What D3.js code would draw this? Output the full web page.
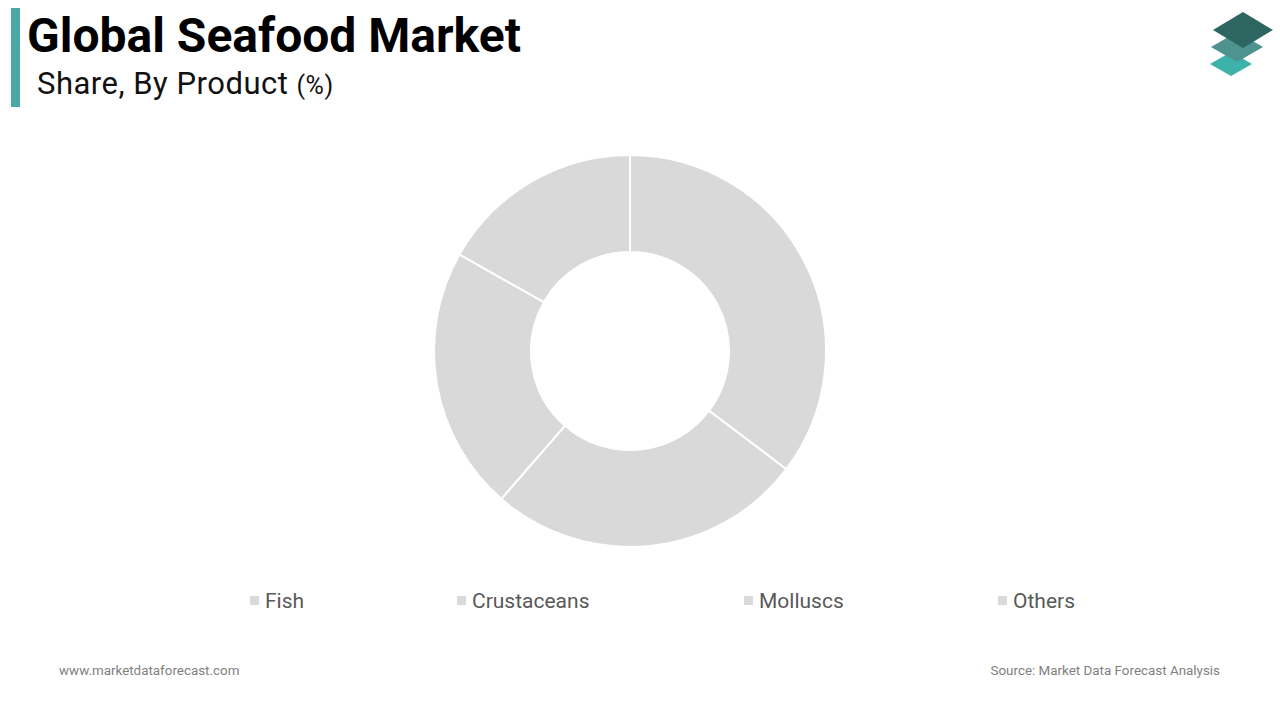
<!DOCTYPE html>
<html>
<head>
<meta charset="utf-8">
<script src="https://cdn.jsdelivr.net/npm/d3@7"></script>
<style>
  body { margin: 0; background: #fff; }
  svg { display: block; font-family: Roboto, "Noto Sans", sans-serif; }
</style>
</head>
<body>
<div id="chart"></div>
<script>
const categories = ["Fish", "Crustaceans", "Molluscs", "Others"];
const shares = [35.3, 26.1, 21.8, 16.8];
const legendX = [250, 457, 744, 998];

const width = 1280;
const height = 720;

const svg = d3
	.select("#chart")
	.append("svg")
	.attr("width", width)
	.attr("height", height);

// title block
svg.append("rect")
	.attr("x", 11).attr("y", 8)
	.attr("width", 9).attr("height", 99)
	.attr("fill", "#4aa8a8");

svg.append("text")
	.attr("x", 27).attr("y", 52)
	.attr("font-size", 48)
	.attr("font-weight", "bold")
	.attr("fill", "#000")
	.text("Global Seafood Market");

const sub = svg.append("text")
	.attr("x", 37).attr("y", 94)
	.attr("font-size", 31)
	.attr("letter-spacing", 0.5)
	.attr("fill", "#111");
sub.append("tspan").text("Share, By Product ");
sub.append("tspan").attr("font-size", 25).text("(%)");

// logo
const logo = svg.append("g");
const diamond = (x, y, w, h) => `M${x},${y - h} L${x + w},${y} L${x},${y + h} L${x - w},${y} Z`;
logo.append("path").attr("d", diamond(1231, 64, 21, 12)).attr("fill", "#3cb2ab");
logo.append("path").attr("d", diamond(1237, 47, 26, 15)).attr("fill", "#4e938f");
logo.append("path").attr("d", diamond(1243, 30, 30, 18)).attr("fill", "#2d6660");

// donut
const cx = 630, cy = 351;
const outerR = 196, innerR = 99;

const pie = d3.pie().sort(null).value((d) => d);
const arc = d3.arc().innerRadius(innerR).outerRadius(outerR);

svg.append("g")
	.attr("transform", `translate(${cx}, ${cy})`)
	.selectAll("path")
	.data(pie(shares))
	.enter()
	.append("path")
	.attr("d", arc)
	.attr("fill", "#d9d9d9")
	.attr("stroke", "#fff")
	.attr("stroke-width", 2);

// legend
const legend = svg.append("g")
	.selectAll("g")
	.data(categories)
	.enter()
	.append("g")
	.attr("transform", (d, i) => `translate(${legendX[i]}, 601)`);

legend.append("rect")
	.attr("x", 0).attr("y", -5)
	.attr("width", 9).attr("height", 9)
	.attr("fill", "#d9d9d9");

legend.append("text")
	.attr("x", 15).attr("y", 7)
	.attr("font-size", 21)
	.attr("fill", "#595959")
	.text((d) => d);

// footer
svg.append("text")
	.attr("x", 59).attr("y", 675)
	.attr("font-size", 13.4)
	.attr("fill", "#7f7f7f")
	.text("www.marketdataforecast.com");

svg.append("text")
	.attr("x", 1220).attr("y", 675)
	.attr("font-size", 13.4)
	.attr("text-anchor", "end")
	.attr("fill", "#7f7f7f")
	.text("Source: Market Data Forecast Analysis");
</script>
</body>
</html>
